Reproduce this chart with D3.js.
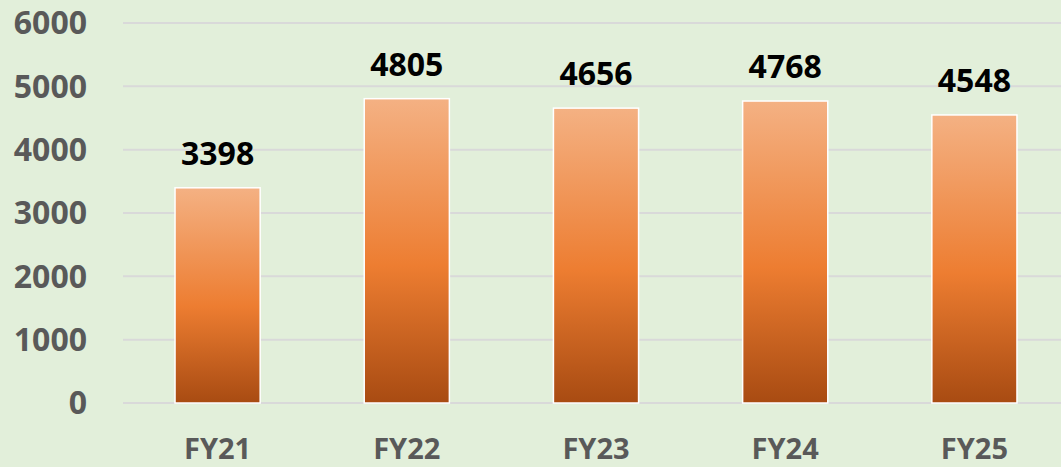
<!DOCTYPE html>
<html>
<head>
<meta charset="utf-8">
<script src="https://cdn.jsdelivr.net/npm/d3@7"></script>
<style>
  html, body { margin: 0; padding: 0; background: #e2efda; }
  svg { display: block; }
  text { font-family: "Open Sans", sans-serif; font-weight: bold; }
</style>
</head>
<body>
<svg id="chart"></svg>
<script>
const years = ["FY21", "FY22", "FY23", "FY24", "FY25"];
const values = [3398, 4805, 4656, 4768, 4548];
const yTicks = [0, 1000, 2000, 3000, 4000, 5000, 6000];

const width = 1061;
const height = 467;
const margin = { top: 23, bottom: 64, left: 123 };

const svg = d3.select("#chart")
    .attr("width", width)
    .attr("height", height);

svg.append("rect")
    .attr("width", width)
    .attr("height", height)
    .attr("fill", "#e2efda");

// the plot area runs a little past the right edge in the original
const x = d3.scaleBand()
    .domain(years)
    .range([margin.left, 1069])
    .paddingInner(0.55)
    .paddingOuter(0.275);

const y = d3.scaleLinear()
    .domain([0, 6000])
    .range([height - margin.bottom, margin.top]);

// gradient for the bars
const grad = svg.append("defs").append("linearGradient")
    .attr("id", "barGrad")
    .attr("x1", 0).attr("y1", 0)
    .attr("x2", 0).attr("y2", 1);
grad.append("stop").attr("offset", "0%").attr("stop-color", "#f4b183");
grad.append("stop").attr("offset", "55%").attr("stop-color", "#ed7d31");
grad.append("stop").attr("offset", "100%").attr("stop-color", "#a84b12");

// gridlines
svg.append("g")
    .selectAll("line")
    .data(yTicks)
    .join("line")
    .attr("x1", margin.left)
    .attr("x2", width)
    .attr("y1", d => y(d))
    .attr("y2", d => y(d))
    .attr("stroke", "#d9d9d9")
    .attr("stroke-width", 2);

// y labels
svg.append("g")
    .selectAll("text")
    .data(yTicks)
    .join("text")
    .attr("x", 87)
    .attr("y", d => y(d))
    .attr("dy", "0.35em")
    .attr("text-anchor", "end")
    .attr("fill", "#595959")
    .style("font-size", "32px")
    .text(d => d);

// bars
svg.append("g")
    .selectAll("rect")
    .data(values)
    .join("rect")
    .attr("x", (d, i) => x(years[i]))
    .attr("y", d => y(d))
    .attr("width", x.bandwidth())
    .attr("height", d => y(0) - y(d))
    .attr("fill", "url(#barGrad)")
    .attr("stroke", "#ffffff")
    .attr("stroke-width", 1.5);

// value labels
svg.append("g")
    .selectAll("text")
    .data(values)
    .join("text")
    .attr("x", (d, i) => x(years[i]) + x.bandwidth() / 2)
    .attr("y", d => y(d) - 23)
    .attr("text-anchor", "middle")
    .attr("fill", "#000000")
    .style("font-size", "32px")
    .text(d => d);

// x labels
svg.append("g")
    .selectAll("text")
    .data(years)
    .join("text")
    .attr("x", d => x(d) + x.bandwidth() / 2)
    .attr("y", 459)
    .attr("text-anchor", "middle")
    .attr("fill", "#595959")
    .style("font-size", "29px")
    .text(d => d);
</script>
</body>
</html>
